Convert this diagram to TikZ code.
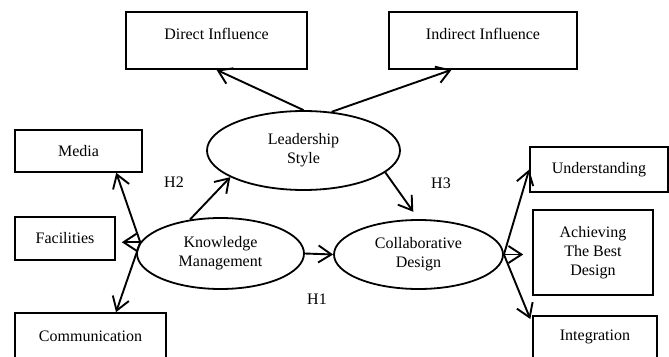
\documentclass[tikz,border=0pt]{standalone}
\usepackage{fontspec}
\setmainfont{Liberation Serif}
\usetikzlibrary{arrows.meta,shapes.geometric}
\tikzset{
  construct/.style={ellipse,draw=black,line width=1.8pt,inner sep=0pt,align=center,font=\fontsize{16}{19}\selectfont},
  item/.style={rectangle,draw=black,line width=1.6pt,align=center,font=\fontsize{16}{19}\selectfont},
  hyp/.style={font=\fontsize{16}{19}\selectfont},
  link/.style={->,line width=1.9pt},
  >={Straight Barb[length=13pt,width=17pt]}}

\begin{document}
\begin{tikzpicture}[x=1pt,y=-1pt]
        \useasboundingbox (0,0) rectangle (669,356);

        \node[construct, minimum width=193pt, minimum height=79pt] (lead) at (303.5,150.5) {Leadership\\Style};
        \node[construct, minimum width=167pt, minimum height=71pt] (km) at (220.5,253.5) {Knowledge\\Management};
        \node[construct, minimum width=169pt, minimum height=69pt] (cd) at (418.5,254.5) {Collaborative\\Design};

        \node[item, minimum width=181pt, minimum height=57pt, text height=11pt, text depth=14pt] (direct) at (216.5,40.5) {Direct Influence};
        \node[item, minimum width=188pt, minimum height=57pt, text height=11pt, text depth=14pt] (indirect) at (483,40.5) {Indirect Influence};
        \node[item, minimum width=127pt, minimum height=42pt] (media) at (78.5,151) {Media};
        \node[item, minimum width=100pt, minimum height=43pt] (fac) at (65,238.5) {Facilities};
        \node[item, minimum width=151pt, minimum height=46pt] (comm) at (90.5,336) {Communication};
        \node[item, minimum width=138pt, minimum height=45pt] (under) at (599,169.5) {Understanding};
        \node[item, minimum width=120pt, minimum height=85pt] (achieve) at (593,252.5) {Achieving\\The Best\\Design};
        \node[item, minimum width=124pt, minimum height=42pt] (integ) at (595,337) {Integration};

        \node[hyp] (h1) at (317,299) {H1};
        \node[hyp] (h2) at (174,182) {H2};
        \node[hyp] (h3) at (441,183) {H3};

        \path[link] (lead.north) edge (direct.south);
        \path[link] (lead.54) edge (indirect.223);
        \path[link] (km.132) edge (lead.200);
        \path[link] (lead.-15) edge[shorten >=9pt] (cd.north);
        \path[link] (km.east) edge (cd.west);
        \path[link] (km.172) edge (media.330);
        \path[link] (km.172) edge[shorten >=6pt] (fac.east |- km.172);
        \path[link] (km.172) edge (comm.43);
        \path[link] (cd.east) edge (under.west);
        \path[link] (cd.east) edge[shorten >=9pt] (achieve.west |- cd.east);
        \path[link] (cd.east) edge[shorten >=5pt] (integ.168);
    \end{tikzpicture}
\end{document}
